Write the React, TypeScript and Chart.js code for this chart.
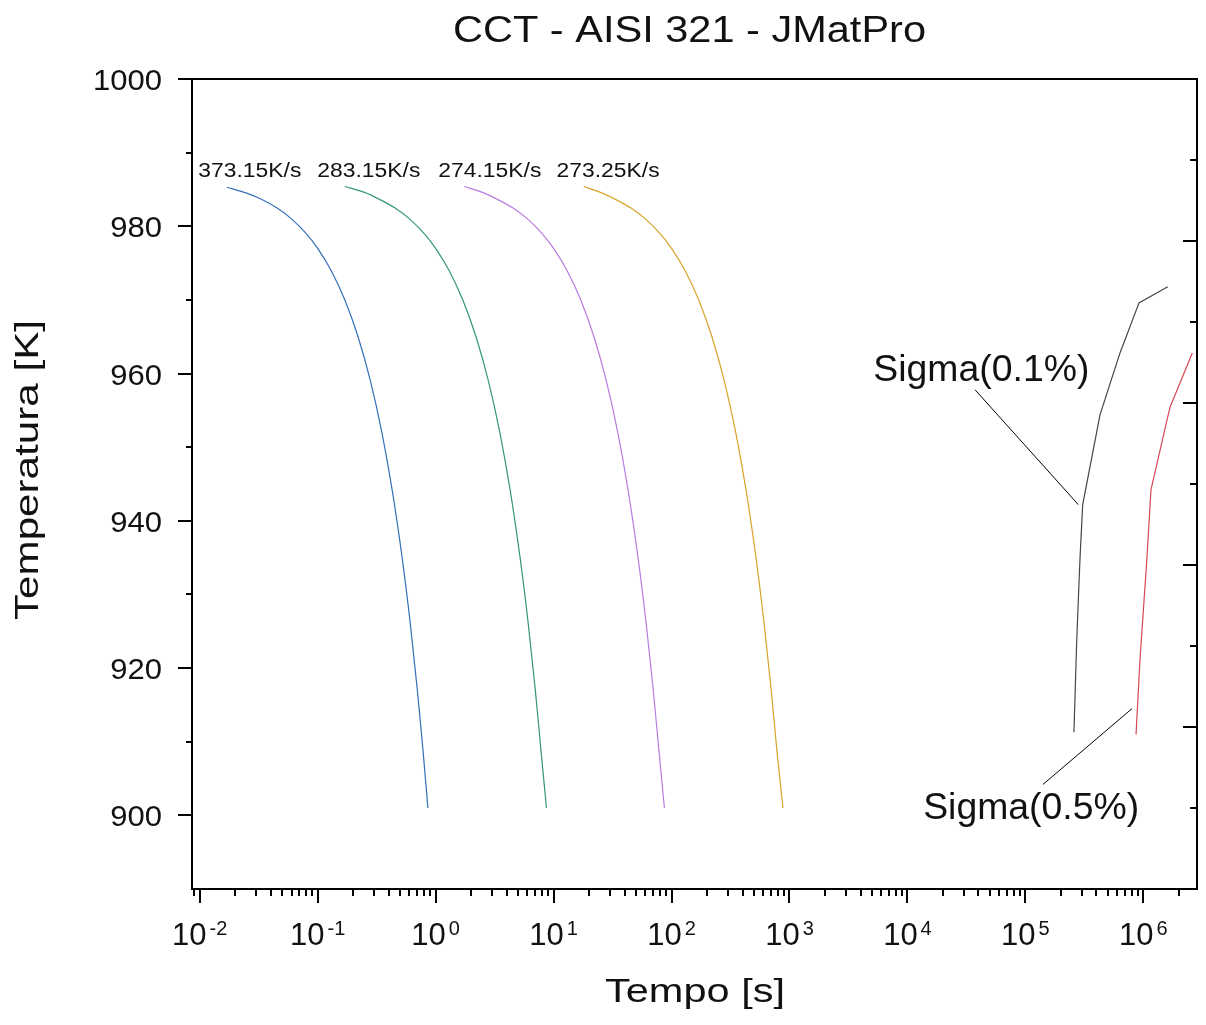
import React, { useEffect, useRef } from "react";
import { Chart, registerables } from "chart.js";

Chart.register(...registerables);

// ---------------- data ----------------
const titleText = "CCT - AISI 321 - JMatPro";
const xTitle = "Tempo [s]";
const yTitle = "Temperatura [K]";

const rate373Time = [0.017, 0.025, 0.033, 0.045, 0.06, 0.08, 0.1, 0.13, 0.17, 0.22, 0.28, 0.35, 0.43, 0.52, 0.61, 0.7, 0.78, 0.86];
const rate373Temp = [985.3, 984.5, 983.7, 982.5, 981, 979, 977, 974, 970, 965, 959, 952, 944, 935, 926, 917, 909, 901];

const rate283Time = [0.17, 0.25, 0.33, 0.45, 0.6, 0.8, 1.0, 1.3, 1.7, 2.2, 2.8, 3.5, 4.3, 5.2, 6.1, 7.0, 7.8, 8.7];
const rate283Temp = [985.4, 984.6, 983.7, 982.5, 981, 979, 977, 974, 970, 965, 959, 952, 944, 935, 926, 917, 909, 901];

const rate274Time = [1.75, 2.5, 3.3, 4.5, 6.0, 8.0, 10, 13, 17, 22, 28, 35, 43, 52, 61, 70, 78, 87];
const rate274Temp = [985.4, 984.6, 983.7, 982.5, 981, 979, 977, 974, 970, 965, 959, 952, 944, 935, 926, 917, 909, 901];

const rate273Time = [18, 25, 33, 45, 60, 80, 100, 130, 170, 220, 280, 350, 430, 520, 610, 700, 780, 880];
const rate273Temp = [985.4, 984.6, 983.7, 982.5, 981, 979, 977, 974, 970, 965, 959, 952, 944, 935, 926, 917, 909, 901];

const sigma01Time = [2.58e5, 2.72e5, 2.9e5, 3.06e5, 4.29e5, 6.34e5, 9.19e5, 1.61e6];
const sigma01Temp = [911.3, 923.5, 934.7, 942.2, 954.4, 962.8, 969.6, 971.8];

const sigma05Time = [8.67e5, 9.37e5, 1.07e6, 1.16e6, 1.68e6, 2.6e6];
const sigma05Temp = [911.0, 921.2, 934.7, 944.2, 955.4, 962.8];

const sigma01LeaderTime = [3.74e4, 2.81e5];
const sigma01LeaderTemp = [957.8, 942.2];
const sigma05LeaderTime = [1.41e5, 8.02e5];
const sigma05LeaderTemp = [904.2, 914.5];

const rateLabels = ["373.15K/s", "283.15K/s", "274.15K/s", "273.25K/s"];
const rateLabelTime = [0.00973, 0.0993, 1.054, 10.6];
const rateLabelTemp = [986.7, 986.7, 986.7, 986.7];

const sigmaLabels = ["Sigma(0.1%)", "Sigma(0.5%)"];
const sigmaLabelTime = [5.14e3, 1.36e4];
const sigmaLabelTemp = [959.0, 899.5];

const xMin = 0.0086;
const xMax = 2.85e6;
const yMin = 890;
const yMax = 1000;
const xMajorExponents = [-2, -1, 0, 1, 2, 3, 4, 5, 6];
const yMajorTicks = [900, 920, 940, 960, 980, 1000];
const yTickLabels = ["900", "920", "940", "960", "980", "1000"];
const yMinorTicks = [910, 930, 950, 970, 990];
const yRightMajorTicks = [890, 912, 934, 956, 978, 1000];
const yRightMinorTicks = [901, 923, 945, 967, 989];

// ---------------- styles ----------------
const FONT = '"Liberation Sans", Arial, Helvetica, sans-serif';
const colors = {
  r373: "rgb(52,112,184)",
  r283: "rgb(52,152,112)",
  r274: "rgb(184,124,224)",
  r273: "rgb(214,164,40)",
  s01: "rgb(70,70,70)",
  s05: "rgb(214,72,82)",
};

function zip(xs: number[], ys: number[]) {
  return xs.map((x, i) => ({ x, y: ys[i] }));
}

function drawText(
  ctx: CanvasRenderingContext2D,
  text: string,
  x: number,
  y: number,
  size: number,
  width: number | null,
  align: "left" | "center" | "right",
  rotate = 0
) {
  ctx.save();
  ctx.font = `${size}px ${FONT}`;
  ctx.fillStyle = "#111";
  const w = ctx.measureText(text).width;
  const sx = width ? width / w : 1;
  ctx.translate(x, y);
  if (rotate) ctx.rotate(rotate);
  ctx.scale(sx, 1);
  ctx.textAlign = align;
  ctx.textBaseline = "alphabetic";
  ctx.fillText(text, 0, 0);
  ctx.restore();
}

const framePlugin = {
  id: "frameAxes",
  afterDraw(chart: any) {
    const ctx: CanvasRenderingContext2D = chart.ctx;
    const { left, right, top, bottom } = chart.chartArea;
    const xs = chart.scales.x;
    const ys = chart.scales.y;
    ctx.save();
    ctx.strokeStyle = "#000";
    ctx.lineWidth = 2;
    ctx.beginPath();
    ctx.rect(left, top, right - left, bottom - top);
    ctx.stroke();

    ctx.beginPath();
    yMajorTicks.forEach((v) => {
      const p = Math.round(ys.getPixelForValue(v));
      ctx.moveTo(left - 14, p);
      ctx.lineTo(left, p);
    });
    yMinorTicks.forEach((v) => {
      const p = Math.round(ys.getPixelForValue(v));
      ctx.moveTo(left - 6, p);
      ctx.lineTo(left, p);
    });
    yRightMajorTicks.forEach((v) => {
      const p = Math.round(ys.getPixelForValue(v));
      ctx.moveTo(right - 14, p);
      ctx.lineTo(right, p);
    });
    yRightMinorTicks.forEach((v) => {
      const p = Math.round(ys.getPixelForValue(v));
      ctx.moveTo(right - 7, p);
      ctx.lineTo(right, p);
    });
    xMajorExponents.forEach((e) => {
      const p = Math.round(xs.getPixelForValue(Math.pow(10, e)));
      ctx.moveTo(p, bottom);
      ctx.lineTo(p, bottom + 14);
    });
    for (let e = -3; e <= 6; e++) {
      for (let m = 2; m <= 9; m++) {
        const v = m * Math.pow(10, e);
        if (v < xMin || v > xMax) continue;
        const p = Math.round(xs.getPixelForValue(v));
        ctx.moveTo(p, bottom);
        ctx.lineTo(p, bottom + 7);
      }
    }
    ctx.stroke();
    ctx.restore();

    yMajorTicks.forEach((v, i) => {
      const p = ys.getPixelForValue(v);
      drawText(ctx, yTickLabels[i], left - 30, p + 11, 30, 69 * yTickLabels[i].length / 4, "right");
    });

    xMajorExponents.forEach((e) => {
      const p = xs.getPixelForValue(Math.pow(10, e));
      ctx.save();
      ctx.font = `31px ${FONT}`;
      const wb = ctx.measureText("10").width;
      ctx.font = `20px ${FONT}`;
      const expStr = e < 0 ? "-" + Math.abs(e) : String(e);
      const we = ctx.measureText(expStr).width;
      ctx.restore();
      const gap = 3;
      const start = p - (wb + gap + we) / 2;
      drawText(ctx, "10", start, bottom + 56, 31, null, "left");
      drawText(ctx, expStr, start + wb + gap, bottom + 46, 20, null, "left");
    });

    drawText(ctx, titleText, 689.5, 42, 36, 473, "center");
    drawText(ctx, xTitle, 695, 1002, 33, 180, "center");
    drawText(ctx, yTitle, 38, 470, 34, 300, "center", -Math.PI / 2);

    rateLabels.forEach((t, i) => {
      drawText(ctx, t, xs.getPixelForValue(rateLabelTime[i]), ys.getPixelForValue(rateLabelTemp[i]), 19.5, 103, "left");
    });
    sigmaLabels.forEach((t, i) => {
      drawText(ctx, t, xs.getPixelForValue(sigmaLabelTime[i]), ys.getPixelForValue(sigmaLabelTemp[i]), 36, 216, "left");
    });
  },
};

export default function App() {
  const canvasRef = useRef<HTMLCanvasElement | null>(null);

  useEffect(() => {
    const canvas = canvasRef.current;
    if (!canvas) return;
    const line = (data: { x: number; y: number }[], color: string, width = 1.2, smooth = false) => ({
      data,
      borderColor: color,
      backgroundColor: color,
      borderWidth: width,
      showLine: true,
      pointRadius: 0,
      fill: false,
      tension: smooth ? 0.4 : 0,
      cubicInterpolationMode: smooth ? "monotone" : "default",
    });
    const chart = new Chart(canvas, {
      type: "scatter",
      data: {
        datasets: [
          line(zip(rate373Time, rate373Temp), colors.r373, 1.2, true),
          line(zip(rate283Time, rate283Temp), colors.r283, 1.2, true),
          line(zip(rate274Time, rate274Temp), colors.r274, 1.2, true),
          line(zip(rate273Time, rate273Temp), colors.r273, 1.2, true),
          line(zip(sigma01Time, sigma01Temp), colors.s01),
          line(zip(sigma05Time, sigma05Temp), colors.s05),
          line(zip(sigma01LeaderTime, sigma01LeaderTemp), "#000", 1),
          line(zip(sigma05LeaderTime, sigma05LeaderTemp), "#000", 1),
        ] as any,
      },
      options: {
        animation: false,
        responsive: false,
        devicePixelRatio: 1,
        layout: { padding: { left: 192, top: 79, right: 9, bottom: 136 } },
        plugins: {
          legend: { display: false },
          tooltip: { enabled: false },
          title: { display: false },
        },
        scales: {
          x: { type: "logarithmic", min: xMin, max: xMax, display: false },
          y: { type: "linear", min: yMin, max: yMax, display: false },
        },
      },
      plugins: [framePlugin],
    });
    return () => chart.destroy();
  }, []);

  return (
    <div style={{ position: "fixed", left: 0, top: 0, width: 1206, height: 1025, background: "#fff" }}>
      <canvas ref={canvasRef} width={1206} height={1025} style={{ width: 1206, height: 1025, display: "block" }} />
    </div>
  );
}
